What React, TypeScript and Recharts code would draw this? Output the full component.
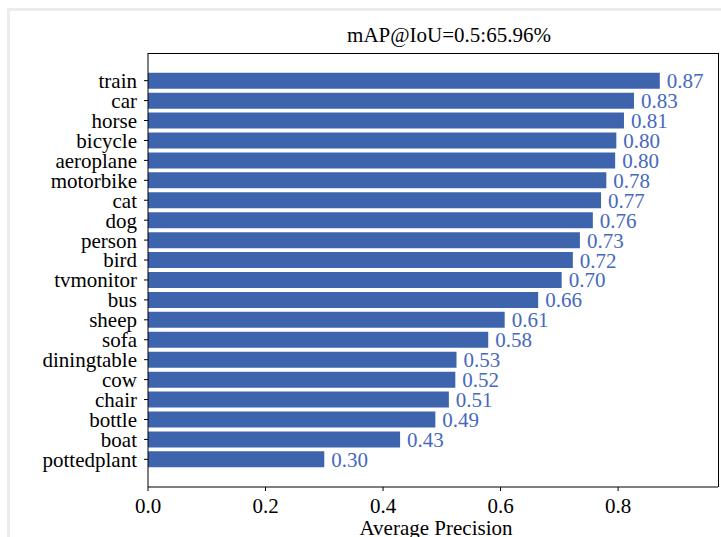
import { BarChart, Bar, XAxis, YAxis, LabelList } from "recharts";

// ---------------------------------------------------------------------------
// Data (top to bottom, as drawn)
// ---------------------------------------------------------------------------
const classes = [
  "train", "car", "horse", "bicycle", "aeroplane", "motorbike", "cat", "dog",
  "person", "bird", "tvmonitor", "bus", "sheep", "sofa", "diningtable", "cow",
  "chair", "bottle", "boat", "pottedplant",
];
const ap = [
  0.871, 0.827, 0.81, 0.797, 0.795, 0.78, 0.771, 0.757,
  0.735, 0.723, 0.704, 0.664, 0.607, 0.579, 0.525, 0.523,
  0.512, 0.489, 0.429, 0.3,
];
const xTicks = [0, 0.2, 0.4, 0.6, 0.8];
const title = "mAP@IoU=0.5:65.96%";
const xLabel = "Average Precision";

const FONT = '"Liberation Serif", "Times New Roman", serif';
const BAR = "#3e64ae";
const LABEL = "#4669bd";

const data = classes.map((name, i) => ({ name, value: ap[i] }));

export default function App() {
  return (
    <div
      style={{
        position: "absolute",
        left: 0,
        top: 0,
        width: 721,
        height: 537,
        background: "#fff",
        overflow: "hidden",
        fontFamily: FONT,
      }}
    >
      <style>{`.recharts-wrapper text, .recharts-wrapper tspan { font-family: ${FONT} !important; }`}</style>

      {/* light frame of the screenshot */}
      <div
        style={{
          position: "absolute",
          left: 7,
          top: 8,
          width: 800,
          height: 600,
          borderLeft: "3px solid #ececec",
          borderTop: "3px solid #ececec",
        }}
      />

      {/* Title */}
      <div
        style={{
          position: "absolute",
          left: 164,
          width: 570,
          top: 22,
          textAlign: "center",
          fontSize: 21,
          lineHeight: "26px",
          color: "#000",
        }}
      >
        {title}
      </div>

      <div style={{ position: "absolute", left: 0, top: 0 }}>
        <BarChart
          width={721}
          height={537}
          data={data}
          layout="vertical"
          margin={{ top: 53, right: 3, bottom: 0, left: 8 }}
          barSize={16}
        >
          <XAxis
            type="number"
            domain={[0, 0.97]}
            ticks={xTicks}
            allowDataOverflow
            tickFormatter={(v: number) => v.toFixed(1)}
            tick={{ fontSize: 21, fill: "#000", dy: 5 }}
            tickLine={{ stroke: "#000" }}
            tickSize={4}
            axisLine={{ stroke: "#000" }}
            height={50}
          />
          <YAxis
            type="category"
            dataKey="name"
            width={140}
            interval={0}
            padding={{ top: 17.7, bottom: 17.7 }}
            tick={{ fontSize: 21, fill: "#000", dx: -5 }}
            tickLine={{ stroke: "#000" }}
            tickSize={4}
            axisLine={{ stroke: "#000" }}
          />
          <Bar dataKey="value" fill={BAR} isAnimationActive={false}>
            <LabelList
              dataKey="value"
              position="right"
              offset={7}
              formatter={(v: number) => v.toFixed(2)}
              style={{ fontSize: 21, fill: LABEL }}
            />
          </Bar>
        </BarChart>
      </div>

      {/* top and right spines of the axes box */}
      <div
        style={{
          position: "absolute",
          left: 148,
          top: 53,
          width: 571,
          height: 434,
          borderTop: "1px solid #000",
          borderRight: "1px solid #000",
          boxSizing: "border-box",
          pointerEvents: "none",
        }}
      />

      {/* X label */}
      <div
        style={{
          position: "absolute",
          left: 151,
          width: 570,
          top: 515,
          textAlign: "center",
          fontSize: 21,
          lineHeight: "26px",
          color: "#000",
        }}
      >
        {xLabel}
      </div>
    </div>
  );
}
